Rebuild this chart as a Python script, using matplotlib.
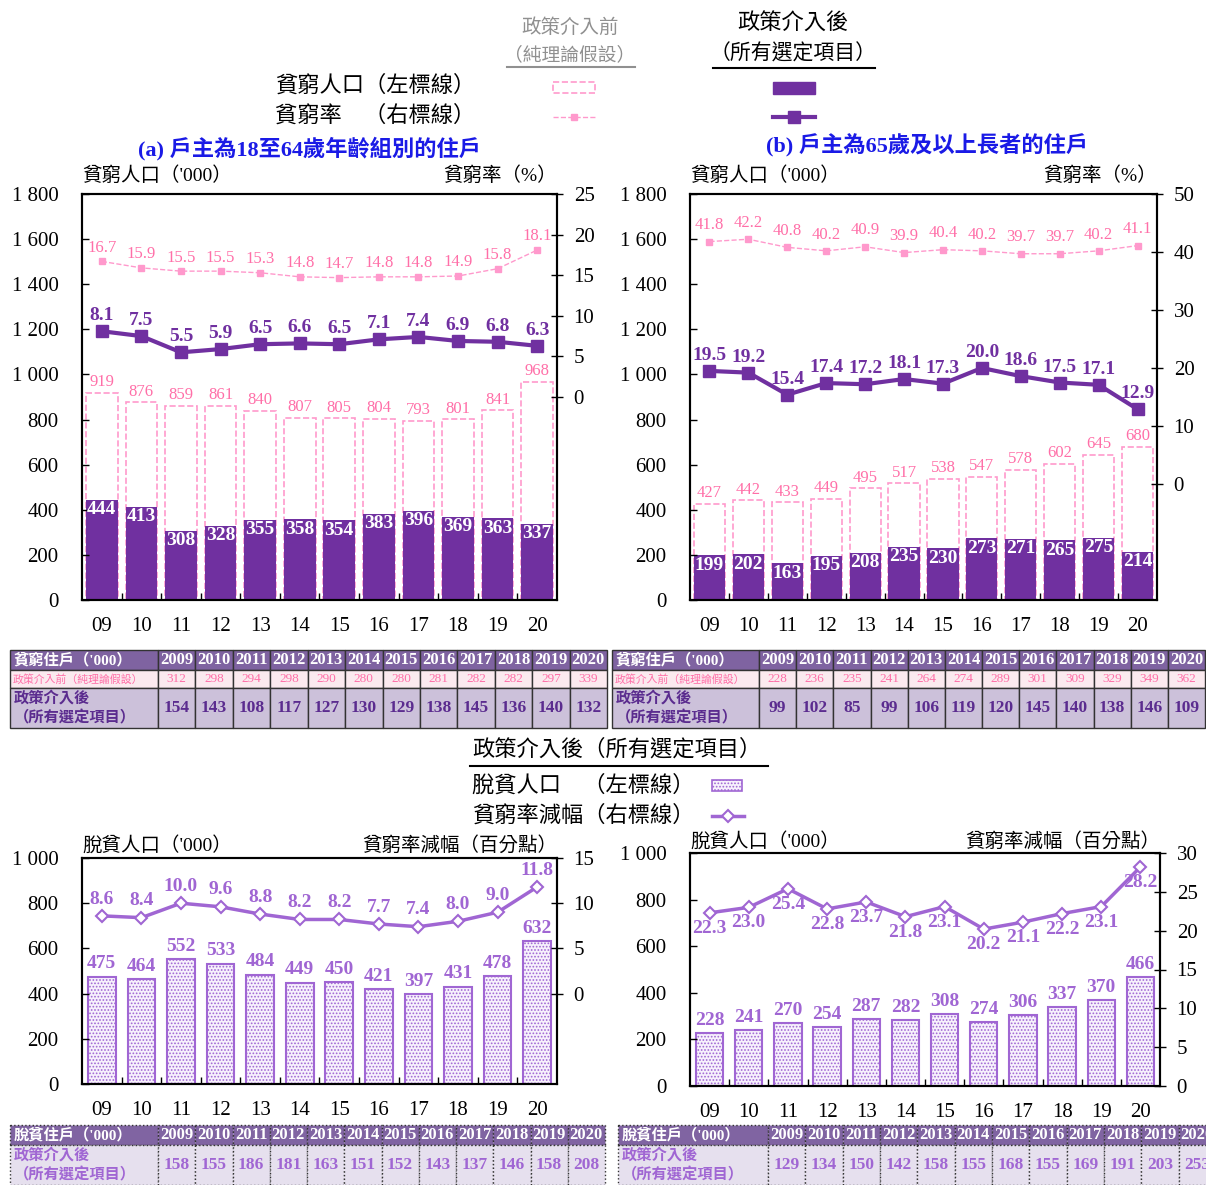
import numpy as np
import matplotlib.pyplot as plt
from matplotlib.patches import Rectangle
from matplotlib.lines import Line2D
from matplotlib.ticker import FuncFormatter, FixedLocator

plt.rcParams['font.family'] = ['Liberation Serif', 'Noto Sans CJK TC']
plt.rcParams['hatch.linewidth'] = 0.8

years = ['09', '10', '11', '12', '13', '14', '15', '16', '17', '18', '19', '20']
table_years = ['2009', '2010', '2011', '2012', '2013', '2014', '2015', '2016', '2017', '2018', '2019', '2020']

# (a) 18-64
a_pop_before = [919, 876, 859, 861, 840, 807, 805, 804, 793, 801, 841, 968]
a_pop_after = [444, 413, 308, 328, 355, 358, 354, 383, 396, 369, 363, 337]
a_rate_before = [16.7, 15.9, 15.5, 15.5, 15.3, 14.8, 14.7, 14.8, 14.8, 14.9, 15.8, 18.1]
a_rate_after = [8.1, 7.5, 5.5, 5.9, 6.5, 6.6, 6.5, 7.1, 7.4, 6.9, 6.8, 6.3]
a_hh_before = [312, 298, 294, 298, 290, 280, 280, 281, 282, 282, 297, 339]
a_hh_after = [154, 143, 108, 117, 127, 130, 129, 138, 145, 136, 140, 132]

# (b) 65+
b_pop_before = [427, 442, 433, 449, 495, 517, 538, 547, 578, 602, 645, 680]
b_pop_after = [199, 202, 163, 195, 208, 235, 230, 273, 271, 265, 275, 214]
b_rate_before = [41.8, 42.2, 40.8, 40.2, 40.9, 39.9, 40.4, 40.2, 39.7, 39.7, 40.2, 41.1]
b_rate_after = [19.5, 19.2, 15.4, 17.4, 17.2, 18.1, 17.3, 20.0, 18.6, 17.5, 17.1, 12.9]
b_hh_before = [228, 236, 235, 241, 264, 274, 289, 301, 309, 329, 349, 362]
b_hh_after = [99, 102, 85, 99, 106, 119, 120, 145, 140, 138, 146, 109]

# lifted out of poverty
c_pop = [475, 464, 552, 533, 484, 449, 450, 421, 397, 431, 478, 632]
c_red = [8.6, 8.4, 10.0, 9.6, 8.8, 8.2, 8.2, 7.7, 7.4, 8.0, 9.0, 11.8]
c_hh = [158, 155, 186, 181, 163, 151, 152, 143, 137, 146, 158, 208]
d_pop = [228, 241, 270, 254, 287, 282, 308, 274, 306, 337, 370, 466]
d_red = [22.3, 23.0, 25.4, 22.8, 23.7, 21.8, 23.1, 20.2, 21.1, 22.2, 23.1, 28.2]
d_hh = [129, 134, 150, 142, 158, 155, 168, 155, 169, 191, 203, 253]

DARK = '#7030A0'
PINK = '#FF99CC'
PINK_TXT = '#FF6FA8'
LAV = '#A066D3'
BLUE = '#1A1AE6'

W, H = 1206, 1185
fig = plt.figure(figsize=(W / 100, H / 100), dpi=100)


def px_axes(x0, y0, x1, y1):
    return fig.add_axes([x0 / W, 1 - y1 / H, (x1 - x0) / W, (y1 - y0) / H])


def thou(v, pos=None):
    return f'{int(v):,}'.replace(',', ' ')


def style_axes(ax, ax2, ymax, ystep, rlim, rticks):
    x = np.arange(12)
    ax.set_xlim(-0.5, 11.5)
    ax.set_ylim(0, ymax)
    ax.set_yticks(np.arange(0, ymax + 1, ystep))
    ax.yaxis.set_major_formatter(FuncFormatter(thou))
    ax.set_xticks(x)
    ax.set_xticklabels(years)
    ax.xaxis.set_minor_locator(FixedLocator(np.arange(0.5, 11, 1)))
    ax.tick_params(axis='x', which='major', length=0, pad=12, labelsize=15)
    ax.tick_params(axis='x', which='minor', direction='in', length=5, width=1)
    ax.tick_params(axis='y', direction='in', length=5, width=1, pad=17, labelsize=15)
    ax2.set_ylim(*rlim)
    ax2.set_yticks(rticks)
    ax2.tick_params(axis='y', direction='inout', length=8, width=1, pad=8, labelsize=15)
    for a in (ax, ax2):
        for s in a.spines.values():
            s.set_linewidth(1.5)


def top_panel(box, pop_b, pop_a, rate_b, rate_a, rlim, rticks, off_b, off_a):
    ax = px_axes(*box)
    x = np.arange(12)
    ax.bar(x, pop_b, width=0.8, facecolor='white', edgecolor=PINK, linestyle='--', linewidth=1.2)
    ax.bar(x, pop_a, width=0.8, color=DARK)
    for i in range(12):
        ax.annotate(str(pop_b[i]), (x[i], pop_b[i]), xytext=(0, 2), textcoords='offset points',
                    ha='center', va='bottom', color=PINK_TXT, fontsize=12)
        ax.annotate(str(pop_a[i]), (x[i], pop_a[i]), xytext=(0, -1), textcoords='offset points',
                    ha='center', va='top', color='white', fontsize=14, fontweight='bold')
    ax2 = ax.twinx()
    ax2.plot(x, rate_b, color=PINK, ls='--', lw=1, marker='s', ms=4)
    ax2.plot(x, rate_a, color=DARK, lw=3, marker='s', ms=8)
    for i in range(12):
        ax2.annotate(f'{rate_b[i]:.1f}', (x[i], rate_b[i]), xytext=(0, off_b), textcoords='offset points',
                     ha='center', va='bottom', color=PINK_TXT, fontsize=12)
        ax2.annotate(f'{rate_a[i]:.1f}', (x[i], rate_a[i]), xytext=(0, off_a), textcoords='offset points',
                     ha='center', va='bottom', color=DARK, fontsize=14, fontweight='bold')
    style_axes(ax, ax2, 1800, 200, rlim, rticks)
    return ax


def bottom_panel(box, pop, red, rlim, rticks, below):
    ax = px_axes(*box)
    x = np.arange(12)
    ax.bar(x, pop, width=0.7, facecolor='#F7F1FC', edgecolor=LAV, hatch='.....', linewidth=1.5)
    for i in range(12):
        ax.annotate(str(pop[i]), (x[i], pop[i]), xytext=(0, 3), textcoords='offset points',
                    ha='center', va='bottom', color=LAV, fontsize=14, fontweight='bold')
    ax2 = ax.twinx()
    ax2.plot(x, red, color=LAV, lw=2.5, marker='D', ms=6, mfc='white', mec=LAV, mew=1.5)
    for i in range(12):
        if below:
            ax2.annotate(f'{red[i]:.1f}', (x[i], red[i]), xytext=(0, -5), textcoords='offset points',
                         ha='center', va='top', color=LAV, fontsize=14, fontweight='bold')
        else:
            ax2.annotate(f'{red[i]:.1f}', (x[i], red[i]), xytext=(0, 6), textcoords='offset points',
                         ha='center', va='bottom', color=LAV, fontsize=14, fontweight='bold')
    style_axes(ax, ax2, 1000, 200, rlim, rticks)
    return ax


top_panel((82, 194, 557, 600), a_pop_before, a_pop_after, a_rate_before, a_rate_after,
          (-25, 25), [0, 5, 10, 15, 20, 25], 4, 5)
top_panel((690, 194, 1157, 600), b_pop_before, b_pop_after, b_rate_before, b_rate_after,
          (-20, 50), [0, 10, 20, 30, 40, 50], 6, 5)
bottom_panel((82, 858, 557, 1084), c_pop, c_red, (-10, 15), [0, 5, 10, 15], False)
bottom_panel((690, 853, 1160, 1086), d_pop, d_red, (0, 30), [0, 5, 10, 15, 20, 25, 30], True)

# overlay for legends, titles and tables (pixel coordinates)
ov = fig.add_axes([0, 0, 1, 1])
ov.set_xlim(0, W)
ov.set_ylim(H, 0)
ov.axis('off')

# top legend
ov.text(570, 28, '政策介入前', ha='center', va='center', fontsize=14, color='#909090')
ov.text(570, 55, '（純理論假設）', ha='center', va='center', fontsize=13.5, color='#909090')
ov.add_line(Line2D([507, 635], [67, 67], color='#909090', lw=1.5))
ov.text(793, 24, '政策介入後', ha='center', va='center', fontsize=16, color='black')
ov.text(793, 54, '（所有選定項目）', ha='center', va='center', fontsize=15, color='black')
ov.add_line(Line2D([713, 875], [68, 68], color='black', lw=1.5))
ov.text(275, 86, '貧窮人口（左標線）', ha='left', va='center', fontsize=16)
ov.text(275, 116, '貧窮率\u3000（右標線）', ha='left', va='center', fontsize=16)
ov.add_patch(Rectangle((553, 82), 42, 11, facecolor='white', edgecolor=PINK, linestyle='--', lw=1.2))
ov.add_line(Line2D([553, 595], [117, 117], color=PINK, ls='--', lw=1))
ov.add_line(Line2D([574], [117], color=PINK, marker='s', ms=5))
ov.add_patch(Rectangle((773, 82), 42, 12, facecolor=DARK, edgecolor=DARK))
ov.add_line(Line2D([773, 815], [117, 117], color=DARK, lw=3))
ov.add_line(Line2D([794], [117], color=DARK, marker='s', ms=8))

# panel titles
ov.text(309, 149, '(a) 戶主為18至64歲年齡組別的住戶', ha='center', va='center',
        fontsize=16, fontweight='bold', color=BLUE)
ov.text(927, 146, '(b) 戶主為65歲及以上長者的住戶', ha='center', va='center',
        fontsize=16, fontweight='bold', color=BLUE)

# axis titles
ov.text(82, 176, "貧窮人口（'000）", ha='left', va='center', fontsize=14)
ov.text(557, 176, '貧窮率（%）', ha='right', va='center', fontsize=14)
ov.text(690, 176, "貧窮人口（'000）", ha='left', va='center', fontsize=14)
ov.text(1157, 176, '貧窮率（%）', ha='right', va='center', fontsize=14)
ov.text(82, 845, "脫貧人口（'000）", ha='left', va='center', fontsize=14)
ov.text(557, 845, '貧窮率減幅（百分點）', ha='right', va='center', fontsize=14)
ov.text(690, 841, "脫貧人口（'000）", ha='left', va='center', fontsize=14)
ov.text(1160, 841, '貧窮率減幅（百分點）', ha='right', va='center', fontsize=14)

# bottom legend
ov.text(617, 750, '政策介入後（所有選定項目）', ha='center', va='center', fontsize=16)
ov.add_line(Line2D([470, 768], [766, 766], color='black', lw=1.5))
ov.text(472, 786, '脫貧人口\u3000（左標線）', ha='left', va='center', fontsize=16)
ov.text(472, 816, '貧窮率減幅（右標線）', ha='left', va='center', fontsize=16)
ov.add_patch(Rectangle((712, 780), 30, 11, facecolor='#F7F1FC', edgecolor=LAV, hatch='.....', lw=1.2))
ov.add_line(Line2D([712, 744], [816, 816], color=LAV, lw=2.5))
ov.add_line(Line2D([728], [816], color=LAV, marker='D', ms=6, mfc='white', mec=LAV, mew=1.5))


def cell(x, y, w, h, fc, ls='-'):
    ov.add_patch(Rectangle((x, y), w, h, facecolor=fc, edgecolor='#333333', lw=1, linestyle=ls))


def top_table(x0, x1, first_w, y0, before, after):
    cw = (x1 - x0 - first_w) / 12
    h1, h2, h3 = 20, 18, 40
    cell(x0, y0, first_w, h1, '#7F63A1')
    ov.text(x0 + 4, y0 + h1 / 2, "貧窮住戶（'000）", ha='left', va='center', fontsize=11,
            fontweight='bold', color='white')
    cell(x0, y0 + h1, first_w, h2, '#FBEAEF')
    ov.text(x0 + 3, y0 + h1 + h2 / 2, '政策介入前（純理論假設）', ha='left', va='center', fontsize=7.8,
            color=PINK_TXT)
    cell(x0, y0 + h1 + h2, first_w, h3, '#CCC1DA')
    ov.text(x0 + 4, y0 + h1 + h2 + 11, '政策介入後', ha='left', va='center', fontsize=11,
            fontweight='bold', color='#5B2C8F')
    ov.text(x0 + 4, y0 + h1 + h2 + 30, '（所有選定項目）', ha='left', va='center', fontsize=11,
            fontweight='bold', color='#5B2C8F')
    for i in range(12):
        cx = x0 + first_w + i * cw
        cell(cx, y0, cw, h1, '#7F63A1')
        ov.text(cx + cw / 2, y0 + h1 / 2, table_years[i], ha='center', va='center', fontsize=12,
                fontweight='bold', color='white')
        cell(cx, y0 + h1, cw, h2, '#FBEAEF')
        ov.text(cx + cw / 2, y0 + h1 + h2 / 2, str(before[i]), ha='center', va='center', fontsize=9.5,
                color=PINK_TXT)
        cell(cx, y0 + h1 + h2, cw, h3, '#CCC1DA')
        ov.text(cx + cw / 2, y0 + h1 + h2 + h3 / 2, str(after[i]), ha='center', va='center', fontsize=12.5,
                fontweight='bold', color='#5B2C8F')


def bottom_table(x0, x1, first_w, y0, vals):
    cw = (x1 - x0 - first_w) / 12
    h1, h2 = 20, 40
    cell(x0, y0, first_w, h1, '#8064A2', ':')
    ov.text(x0 + 4, y0 + h1 / 2, "脫貧住戶（'000）", ha='left', va='center', fontsize=11,
            fontweight='bold', color='white')
    cell(x0, y0 + h1, first_w, h2, '#E6E0EE', ':')
    ov.text(x0 + 4, y0 + h1 + 11, '政策介入後', ha='left', va='center', fontsize=11,
            fontweight='bold', color=LAV)
    ov.text(x0 + 4, y0 + h1 + 30, '（所有選定項目）', ha='left', va='center', fontsize=11,
            fontweight='bold', color=LAV)
    for i in range(12):
        cx = x0 + first_w + i * cw
        cell(cx, y0, cw, h1, '#8064A2', ':')
        ov.text(cx + cw / 2, y0 + h1 / 2, table_years[i], ha='center', va='center', fontsize=12,
                fontweight='bold', color='white')
        cell(cx, y0 + h1, cw, h2, '#E6E0EE', ':')
        ov.text(cx + cw / 2, y0 + h1 + h2 / 2, str(vals[i]), ha='center', va='center', fontsize=12.5,
                fontweight='bold', color=LAV)


top_table(10, 607, 148, 650, a_hh_before, a_hh_after)
top_table(612, 1205, 147, 650, b_hh_before, b_hh_after)
bottom_table(10, 605, 148, 1125, c_hh)
bottom_table(618, 1216, 150, 1125, d_hh)

fig.savefig('out.png', dpi=100)
